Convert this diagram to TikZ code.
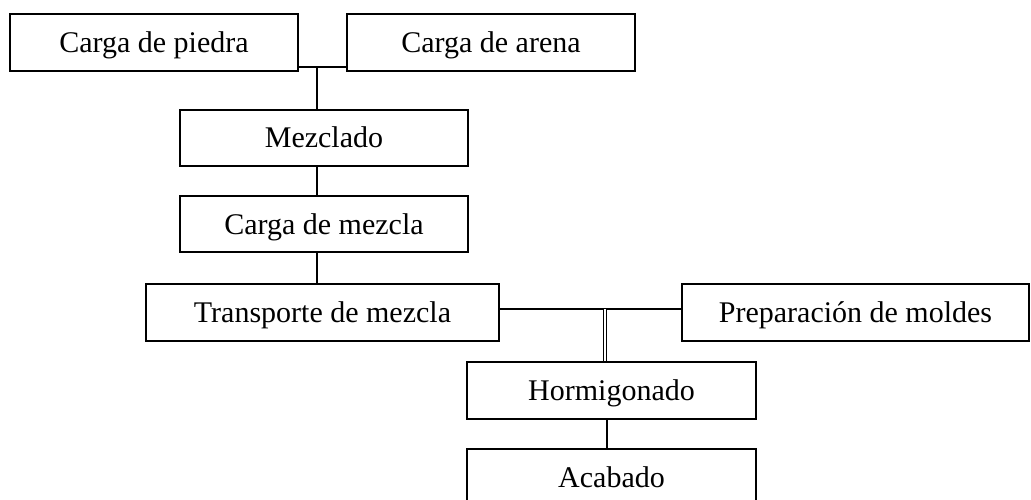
\documentclass[tikz,border=0pt]{standalone}
\usepackage{fontspec}
\setmainfont{Liberation Serif}
\begin{document}
\begin{tikzpicture}[x=1pt,y=-1pt,
  box/.style={draw=black,line width=1.4pt,fill=white,inner sep=0pt,
    text height=20pt,text depth=0pt,
    font=\fontsize{30}{36}\selectfont},
  conn/.style={draw=black,line width=1.4pt},
  dconn/.style={draw=black,line width=1.4pt,double=white,double distance=1.3pt}]
\path[use as bounding box,clip] (0,0) rectangle (1031,500);
\fill[white] (0,0) rectangle (1031,500);
\node[box,minimum width=288pt,minimum height=57pt] (piedra) at (154,42.5) {Carga de piedra};
\node[box,minimum width=288pt,minimum height=57pt] (arena) at (491,42.5) {Carga de arena};
\node[box,minimum width=288pt,minimum height=56pt] (mezclado) at (324,138) {Mezclado};
\node[box,minimum width=288pt,minimum height=56pt] (cargamezcla) at (324,224) {Carga de mezcla};
\node[box,minimum width=353pt,minimum height=57pt] (transporte) at (322.5,312.5) {Transporte de mezcla};
\node[box,minimum width=347pt,minimum height=57pt] (preparacion) at (855.5,312.5) {Preparación de moldes};
\node[box,minimum width=289pt,minimum height=57pt] (hormigonado) at (611.5,390.5) {Hormigonado};
\node[box,minimum width=289pt,minimum height=57pt] (acabado) at (611.5,477.5) {Acabado};
\coordinate (j1) at (317,67);
\coordinate (j2) at (605,309);
\coordinate (j3) at (607,419);
\draw[conn] (piedra.east |- j1) -- (arena.west |- j1);
\draw[conn] (j1) -- (j1 |- mezclado.north);
\draw[conn] (j1 |- mezclado.south) -- (j1 |- cargamezcla.north);
\draw[conn] (j1 |- cargamezcla.south) -- (j1 |- transporte.north);
\draw[conn] (transporte.east |- j2) -- (preparacion.west |- j2);
\draw[dconn] (j2) -- (j2 |- hormigonado.north);
\draw[conn] (j3 |- hormigonado.south) -- (j3 |- acabado.north);
\end{tikzpicture}
\end{document}
